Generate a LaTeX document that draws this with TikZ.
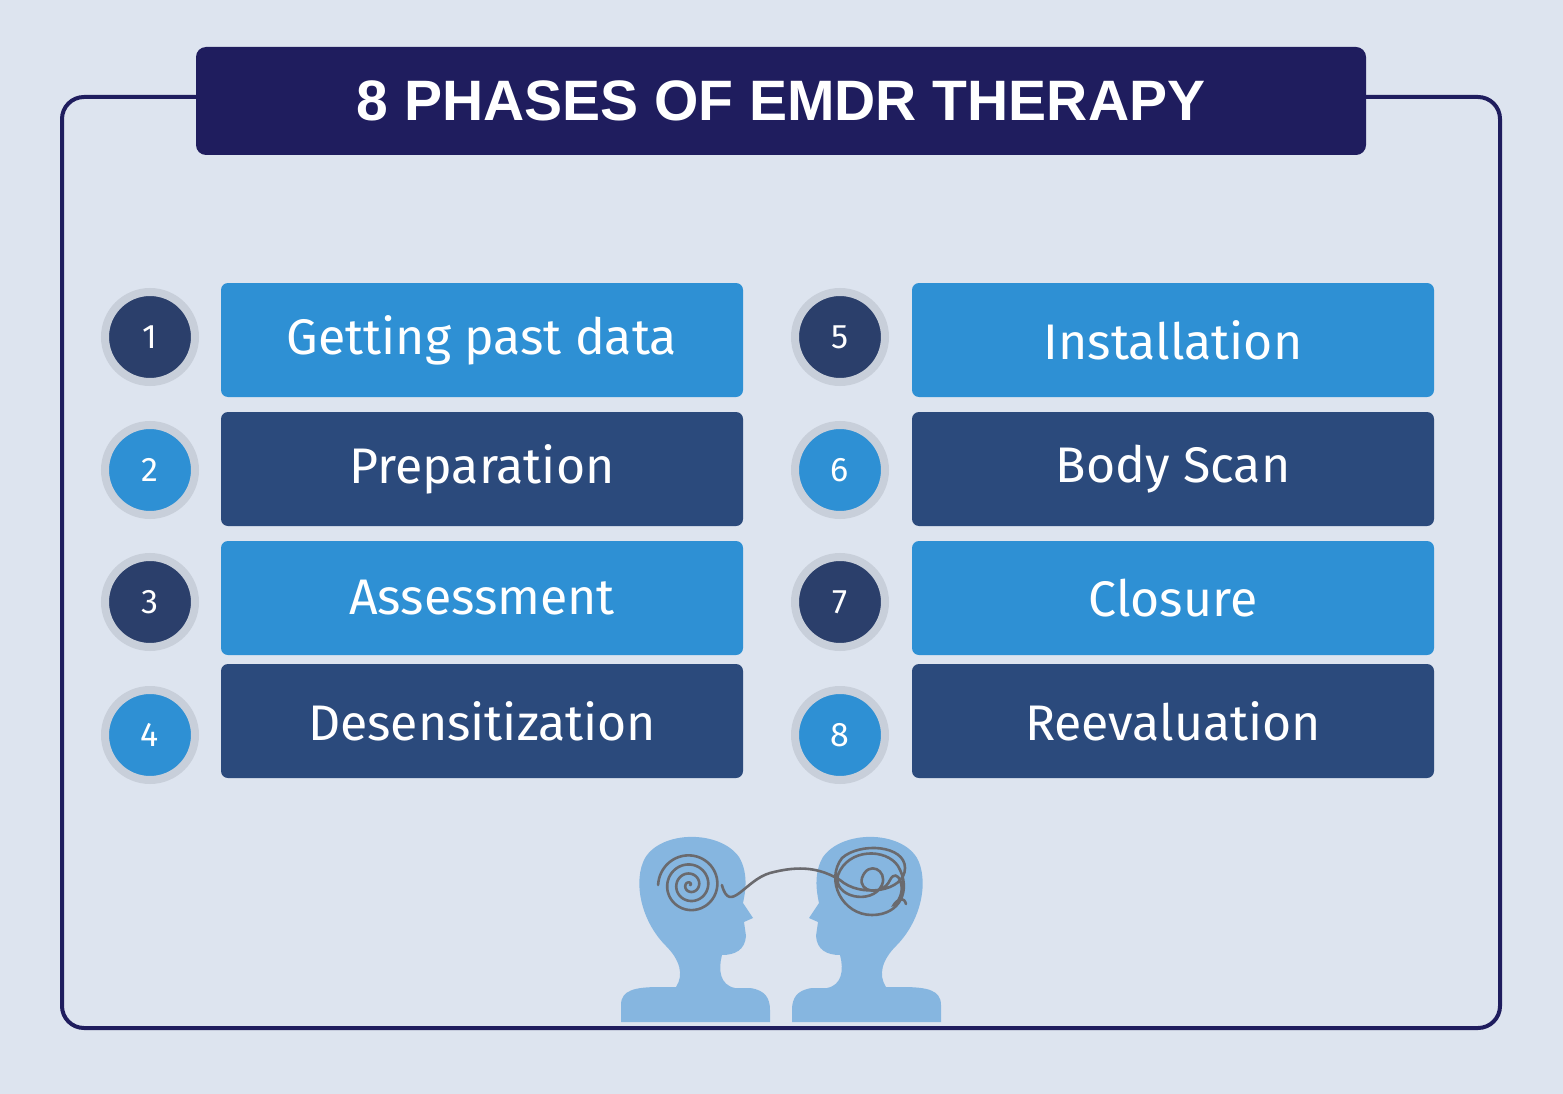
\documentclass[tikz,border=0pt]{standalone}
\usepackage{fontspec}
\setmainfont{Fira Sans}
\newfontfamily\titlefont{Liberation Sans}
\begin{document}
\begin{tikzpicture}[x=1pt,y=-1pt]
\definecolor{bg}{HTML}{DDE4EF}
\definecolor{navy}{HTML}{1F1D5E}
\definecolor{lightb}{HTML}{2E90D4}
\definecolor{darkb}{HTML}{2B4A7C}
\definecolor{darkc}{HTML}{2B3F6B}
\definecolor{ring}{HTML}{C8CFDA}
\definecolor{head}{HTML}{86B6E0}
\definecolor{wire}{HTML}{6A6A6E}
\tikzset{
 phasebox/.style={rounded corners=7pt,minimum width=522pt,minimum height=114pt,text=white,font=\fontsize{50}{52}\selectfont,inner sep=0pt},
 numc/.style={circle,minimum size=90pt,inner sep=0pt,text=white,font=\fontsize{34}{36}\selectfont,draw=ring,line width=8pt},
 wirel/.style={draw=wire,line width=2.6pt,line cap=round}
}
\fill[bg] (0,0) rectangle (1563,1094);
\useasboundingbox (0,0) rectangle (1563,1094);
\draw[navy,line width=4pt,rounded corners=22pt] (62,97) rectangle (1500,1028);
\node[fill=navy,rounded corners=10pt,minimum width=1170pt,minimum height=108pt,text=white,font=\titlefont\fontsize{57}{59}\selectfont\bfseries] (title) at (781,101) {8 PHASES OF EMDR THERAPY};
\foreach \i/\y/\bc/\cc/\l/\r in {1/340/lightb/darkc/Getting past data/Installation,2/469/darkb/lightb/Preparation/Body Scan,3/598/lightb/darkc/Assessment/Closure,4/721/darkb/lightb/Desensitization/Reevaluation}{
 \node[phasebox,fill=\bc] (L\i) at (482,\y) {\l};
 \node[phasebox,fill=\bc] (R\i) at (1173,\y) {\r};
}
\node[numc,fill=darkc] (c1) at (150,337) {1};
\node[numc,fill=lightb] (c2) at (150,470) {2};
\node[numc,fill=darkc] (c3) at (150,602) {3};
\node[numc,fill=lightb] (c4) at (150,735) {4};
\node[numc,fill=darkc] (c5) at (840,337) {5};
\node[numc,fill=lightb] (c6) at (840,470) {6};
\node[numc,fill=darkc] (c7) at (840,602) {7};
\node[numc,fill=lightb] (c8) at (840,735) {8};
% heads
\def\headpath{(621,1022) -- (621,1005) .. controls (621,990) and (635,987) .. (660,987) -- (676,987) .. controls (684,975) and (680,960) .. (666,946) .. controls (640,920) and (633,880) .. (645,858) .. controls (662,830) and (720,830) .. (739,857) .. controls (748,872) and (746,890) .. (743,903) -- (753,918) -- (744,922) -- (746,936) .. controls (745,950) and (735,955) .. (722,955) .. controls (718,970) and (720,985) .. (735,988) -- (750,988) .. controls (765,990) and (770,998) .. (770,1010) -- (770,1022) -- cycle}
\fill[head] \headpath;
\begin{scope}[xshift=1562pt,xscale=-1]
\fill[head] \headpath;
\end{scope}
\draw[wirel,domain=0:7*pi,samples=240,variable=\t] plot ({690+1.45*\t*cos(\t r)},{885-1.45*\t*sin(\t r)});
\draw[wirel] (690+31.9,885) .. controls (730,915) and (745,880) .. (770,873) .. controls (800,865) and (820,868) .. (840,880);
\draw[wirel] (840,880) .. controls (860,898) and (905,892) .. (905,868) .. controls (905,845) and (860,842) .. (842,858) .. controls (825,880) and (842,915) .. (872,915) .. controls (900,915) and (912,890) .. (898,866) .. controls (886,848) and (848,848) .. (838,875) .. controls (832,897) and (872,906) .. (882,885) .. controls (888,870) and (868,860) .. (862,878) .. controls (858,892) and (882,897) .. (890,880) .. controls (897,866) and (908,888) .. (897,902) .. controls (888,912) and (902,890) .. (906,904);
\end{tikzpicture}
\end{document}
